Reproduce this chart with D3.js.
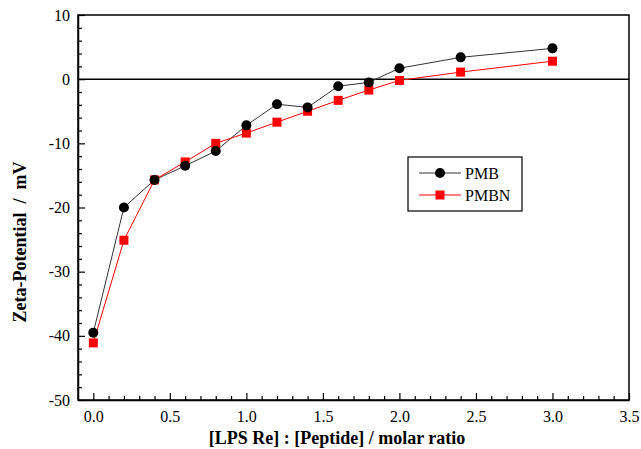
<!DOCTYPE html>
<html><head><meta charset="utf-8">
<script src="https://cdn.jsdelivr.net/npm/d3@7"></script>
<style>body{margin:0;background:#fff}svg{display:block}svg text{font-family:"Liberation Serif","Times New Roman",serif}</style>
</head><body>
<script>
const ratios = [0, 0.2, 0.4, 0.6, 0.8, 1.0, 1.2, 1.4, 1.6, 1.8, 2.0, 2.4, 3.0];
const pmb  = [-39.5, -20.0, -15.7, -13.5, -11.2, -7.2, -3.9, -4.4, -1.1, -0.5, 1.7, 3.4, 4.8];
const pmbn = [-41.1, -25.1, -15.7, -12.9, -10.0, -8.4, -6.7, -5.0, -3.3, -1.7, -0.2, 1.1, 2.8];
const xTicks = [0, 0.5, 1.0, 1.5, 2.0, 2.5, 3.0, 3.5];
const yTicks = [-50, -40, -30, -20, -10, 0, 10];
const seriesNames = ["PMB", "PMBN"];

const W = 641, H = 449;
const L = 78, R = 629, T = 15, B = 400;
const svg = d3.select("body").append("svg").attr("width", W).attr("height", H);
const font = '"Liberation Serif","Times New Roman",serif';

const x = d3.scaleLinear().domain([-0.1, 3.5]).range([L, R]);
const y = d3.scaleLinear().domain([-50, 10]).range([B, T]);

// frame
svg.append("rect").attr("x", L).attr("y", T).attr("width", R - L).attr("height", B - T)
  .attr("fill", "none").attr("stroke", "#000").attr("stroke-width", 1.5);

// zero line
svg.append("line").attr("x1", L).attr("x2", R).attr("y1", y(0)).attr("y2", y(0))
  .attr("stroke", "#000").attr("stroke-width", 1.5);

// x axis
svg.append("g").attr("transform", `translate(0,${B})`)
  .call(d3.axisBottom(x).tickValues(xTicks).tickFormat(d => d.toFixed(1)).tickSizeInner(-7).tickSizeOuter(0).tickPadding(11));
const xMinor = d3.range(0, 35).map(i => +(i * 0.1).toFixed(1)).filter(v => !xTicks.some(t => Math.abs(t - v) < 1e-6));
svg.append("g").attr("transform", `translate(0,${B})`)
  .call(d3.axisBottom(x).tickValues(xMinor).tickFormat("").tickSizeInner(-4).tickSizeOuter(0))
  .select(".domain").remove();

// y axis
svg.append("g").attr("transform", `translate(${L},0)`)
  .call(d3.axisLeft(y).tickValues(yTicks).tickFormat(d => String(d)).tickSizeInner(-7).tickSizeOuter(0).tickPadding(8));
const yMinor = d3.range(-48, 10, 2).filter(v => v % 10 !== 0);
svg.append("g").attr("transform", `translate(${L},0)`)
  .call(d3.axisLeft(y).tickValues(yMinor).tickFormat("").tickSizeInner(-4).tickSizeOuter(0))
  .select(".domain").remove();

svg.selectAll("g").attr("font-family", null);
svg.selectAll(".domain").attr("stroke-width", 1.5);
svg.selectAll(".tick line").attr("stroke-width", 1.2);
svg.selectAll(".tick text").style("font-family", font).style("font-size", "16px").attr("fill", "#000");

// axis titles
svg.append("text").attr("x", 337).attr("y", 444).attr("text-anchor", "middle")
  .style("font-family", font).style("font-weight", "bold").style("font-size", "18px")
  .text("[LPS Re] : [Peptide] / molar ratio");
svg.append("text").attr("transform", "translate(26,242) rotate(-90)").attr("text-anchor", "middle")
  .style("font-family", font).style("font-weight", "bold").style("font-size", "18px")
  .style("white-space", "pre")
  .text("Zeta-Potential  /  mV");

// series
const line = d3.line().x(d => x(d[0])).y(d => y(d[1]));
const pmbData = ratios.map((r, i) => [r, pmb[i]]);
const pmbnData = ratios.map((r, i) => [r, pmbn[i]]);

svg.append("path").datum(pmbData).attr("d", line).attr("fill", "none").attr("stroke", "#333").attr("stroke-width", 1);
svg.append("path").datum(pmbnData).attr("d", line).attr("fill", "none").attr("stroke", "#f00").attr("stroke-width", 1);

svg.append("g").selectAll("rect").data(pmbnData).join("rect")
  .attr("x", d => x(d[0]) - 4.5).attr("y", d => y(d[1]) - 4.5).attr("width", 9).attr("height", 9).attr("fill", "#f00");
svg.append("g").selectAll("circle").data(pmbData).join("circle")
  .attr("cx", d => x(d[0])).attr("cy", d => y(d[1])).attr("r", 5).attr("fill", "#000");

// legend
const lg = svg.append("g");
lg.append("rect").attr("x", 408).attr("y", 157).attr("width", 114).attr("height", 54)
  .attr("fill", "#fff").attr("stroke", "#000").attr("stroke-width", 1.2);
const legendRows = [
  {name: seriesNames[0], color: "#333", mark: "circle", fillc: "#000", yy: 173},
  {name: seriesNames[1], color: "#f00", mark: "rect", fillc: "#f00", yy: 195}
];
legendRows.forEach(r => {
  lg.append("line").attr("x1", 419).attr("x2", 461).attr("y1", r.yy).attr("y2", r.yy).attr("stroke", r.color).attr("stroke-width", 1);
  if (r.mark === "circle") lg.append("circle").attr("cx", 440).attr("cy", r.yy).attr("r", 5).attr("fill", r.fillc);
  else lg.append("rect").attr("x", 435.5).attr("y", r.yy - 4.5).attr("width", 9).attr("height", 9).attr("fill", r.fillc);
  lg.append("text").attr("x", 465).attr("y", r.yy + 5.5).style("font-family", font).style("font-size", "16px").text(r.name);
});
</script>
</body></html>
